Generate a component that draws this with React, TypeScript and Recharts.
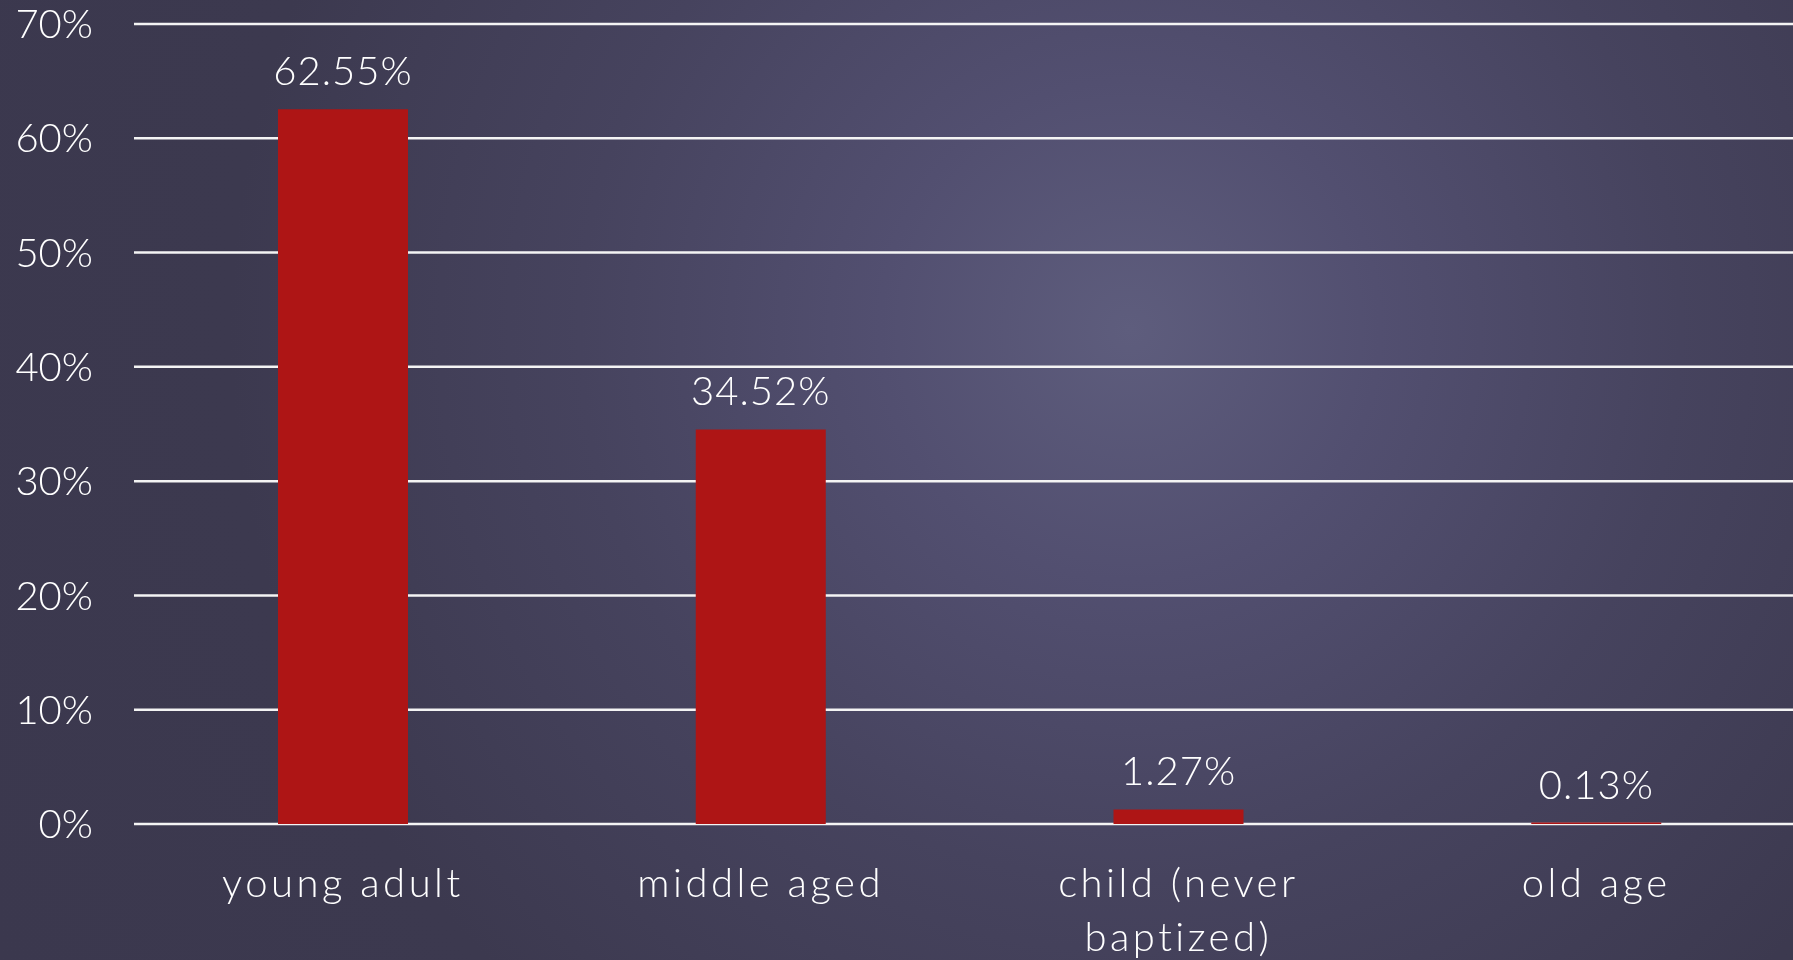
import { BarChart, Bar, XAxis, YAxis, CartesianGrid, LabelList } from 'recharts';

const categories = ['young adult', 'middle aged', 'child (never baptized)', 'old age'];
const shares = [62.55, 34.52, 1.27, 0.13];
const yTicks = [0, 10, 20, 30, 40, 50, 60, 70];

const data = categories.map((name, i) => ({ name, share: shares[i] }));

const FONT = 'Lato, "Open Sans", sans-serif';

// split long category names into lines of at most ~12 characters
function wrap(text: string, max = 12): string[] {
  const words = text.split(' ');
  const lines: string[] = [];
  let cur = '';
  for (const w of words) {
    const next = cur ? cur + ' ' + w : w;
    if (next.length > max && cur) {
      lines.push(cur);
      cur = w;
    } else {
      cur = next;
    }
  }
  if (cur) lines.push(cur);
  return lines;
}

function CategoryTick(props: any) {
  const { x, y, payload } = props;
  const lines = wrap(String(payload.value));
  return (
    <text
      x={x}
      y={y + 73}
      textAnchor="middle"
      fill="#ffffff"
      fontSize={40}
      fontWeight={300}
      letterSpacing={3.5}
      fontFamily={FONT}
    >
      {lines.map((l, i) => (
        <tspan key={i} x={x} dy={i === 0 ? 0 : 54}>
          {l}
        </tspan>
      ))}
    </text>
  );
}

function ValueLabel(props: any) {
  const { x, y, width, value } = props;
  return (
    <text
      x={x + width / 2}
      y={y - 24}
      textAnchor="middle"
      fill="#ffffff"
      fontSize={40}
      fontWeight={300}
      letterSpacing={1}
      fontFamily={FONT}
    >
      {`${Number(value).toFixed(2)}%`}
    </text>
  );
}

export default function App() {
  return (
    <div
      style={{
        position: 'fixed',
        left: 0,
        top: 0,
        width: 1793,
        height: 960,
        overflow: 'hidden',
        background:
          'radial-gradient(circle at 1130px 330px, #5e5d7d 0px, #524f70 250px, #46435e 550px, #3c394f 900px, #3b384e 1300px)',
      }}
    >
      <BarChart
        width={1810}
        height={960}
        data={data}
        margin={{ top: 24, right: 5, left: 0, bottom: 0 }}
      >
        <CartesianGrid vertical={false} stroke="#f4f4f4" strokeWidth={2.5} />
        <XAxis
          dataKey="name"
          height={136}
          axisLine={false}
          tickLine={false}
          tickSize={0}
          tickMargin={0}
          interval={0}
          tick={<CategoryTick />}
        />
        <YAxis
          width={134}
          domain={[0, 70]}
          ticks={yTicks}
          axisLine={false}
          tickLine={false}
          tickSize={6}
          tickMargin={35}
          tickFormatter={(v: number) => `${v}%`}
          tick={{ fill: '#ffffff', fontSize: 40, fontWeight: 300, fontFamily: FONT }}
        />
        <Bar dataKey="share" fill="#ae1515" barSize={130} isAnimationActive={false}>
          <LabelList dataKey="share" content={<ValueLabel />} />
        </Bar>
      </BarChart>
    </div>
  );
}
